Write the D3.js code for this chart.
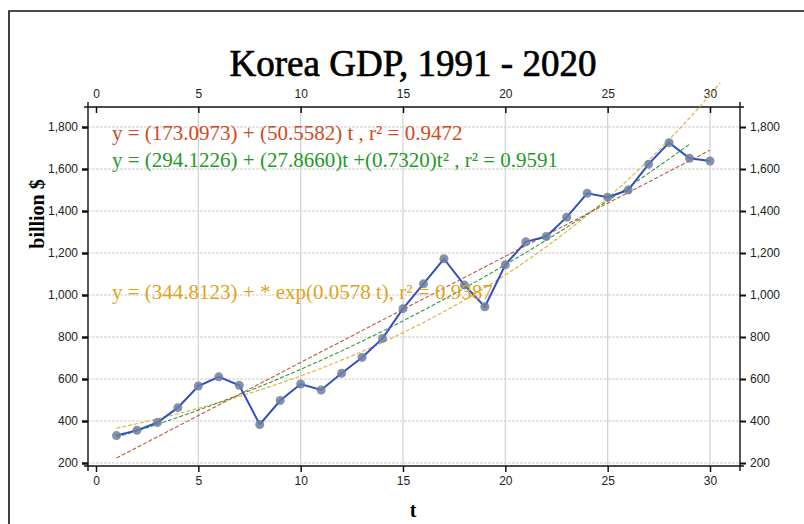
<!DOCTYPE html>
<html>
<head>
<meta charset="utf-8">
<script src="https://cdn.jsdelivr.net/npm/d3@7/dist/d3.min.js"></script>
<style>
  html, body { margin: 0; padding: 0; background: #fff; }
  svg { display: block; }
</style>
</head>
<body>
<svg id="chart" width="804" height="524"></svg>
<script>
// Korea GDP (billion US$), t = 1 (1991) … 30 (2020)
const tValues = d3.range(1, 31);
const gdpValues = [330.6, 355.5, 392.7, 463.6, 566.6, 610.2, 569.8, 383.3, 497.5, 576.2,
                   547.7, 627.2, 702.7, 793.2, 934.9, 1053.2, 1172.6, 1047.3, 943.9, 1144.1,
                   1253.2, 1278.4, 1370.8, 1484.3, 1466.0, 1499.7, 1623.1, 1725.4, 1651.4, 1638.3];

const xTicks = [0, 5, 10, 15, 20, 25, 30];
const yTicks = [200, 400, 600, 800, 1000, 1200, 1400, 1600, 1800];

// fitted trend coefficients
const linCoef = [173.0973, 50.5582];
const quadCoef = [294.1226, 27.8660, 0.7320];
const expCoef = [344.8123, 0.0578];
const fitLabels = [
  "y = (173.0973) + (50.5582) t , r\u00B2 = 0.9472",
  "y = (294.1226) + (27.8660)t +(0.7320)t\u00B2 , r\u00B2 = 0.9591",
  "y = (344.8123) + * exp(0.0578 t), r\u00B2 = 0.9387"
];

const svg = d3.select("#chart");

// outer frame
svg.append("path")
  .attr("d", "M9,530 L9,11 L810,11")
  .attr("fill", "none").attr("stroke", "#111").attr("stroke-width", 1.6);

const box = { left: 88, right: 740, top: 107, bottom: 466 };
const x = d3.scaleLinear().domain([0, 30]).range([96, 710]);
const y = d3.scaleLinear().domain([200, 1800]).range([463, 127]);

const grid = svg.append("g");
grid.selectAll("line.h").data(yTicks).join("line")
  .attr("x1", box.left).attr("x2", box.right)
  .attr("y1", d => y(d)).attr("y2", d => y(d))
  .attr("stroke", "#cfcfcf").attr("stroke-width", 1.2).attr("stroke-dasharray", "3,1");
grid.selectAll("line.v").data(xTicks.filter(d => d > 0)).join("line")
  .attr("y1", box.top).attr("y2", box.bottom)
  .attr("x1", d => x(d)).attr("x2", d => x(d))
  .attr("stroke", "#d4d4d4").attr("stroke-width", 1.3);

// axes
const axFont = "'Liberation Sans', Arial, sans-serif";
function styleAxis(g) {
  g.select(".domain").remove();
  g.selectAll("text").attr("font-family", axFont).attr("font-size", 12).attr("fill", "#222");
  g.selectAll("line").attr("stroke", "#111");
}
const fmt = d3.format(",");
svg.append("g").attr("transform", `translate(${box.left},0)`)
  .call(d3.axisLeft(y).tickValues(yTicks).tickFormat(fmt).tickSize(6).tickPadding(4))
  .call(styleAxis)
  .call(g => g.selectAll("line").attr("stroke-width", 2.5));
svg.append("g").attr("transform", `translate(${box.right},0)`)
  .call(d3.axisRight(y).tickValues(yTicks).tickFormat(fmt).tickSize(6).tickPadding(4))
  .call(styleAxis)
  .call(g => g.selectAll("line").attr("stroke-width", 2));
svg.append("g").attr("transform", `translate(0,${box.bottom})`)
  .call(d3.axisBottom(x).tickValues(xTicks).tickSize(6).tickPadding(4))
  .call(styleAxis)
  .call(g => g.selectAll("line").attr("stroke-width", 1.5));
svg.append("g").attr("transform", `translate(0,${box.top})`)
  .call(d3.axisTop(x).tickValues(xTicks).tickSize(-6).tickPadding(4))
  .call(styleAxis)
  .call(g => g.selectAll("line").attr("stroke-width", 1.5))
  .call(g => g.selectAll("text").attr("y", -9));

// axis frame lines
const frame = svg.append("g").attr("stroke", "#111").attr("stroke-width", 1.4);
frame.append("line").attr("x1", box.left).attr("x2", box.left).attr("y1", box.top - 5).attr("y2", box.bottom + 5);
frame.append("line").attr("x1", box.right).attr("x2", box.right).attr("y1", box.top - 5).attr("y2", box.bottom + 5);
frame.append("line").attr("x1", box.left - 4).attr("x2", box.right + 4).attr("y1", box.top).attr("y2", box.top);
frame.append("line").attr("x1", box.left - 4).attr("x2", box.right + 4).attr("y1", box.bottom).attr("y2", box.bottom);

// trend curves
const line = d3.line().x(d => x(d[0])).y(d => y(d[1]));
function curve(f, t0, t1) {
  const pts = [];
  for (let t = t0; t <= t1 + 1e-9; t += 0.25) pts.push([t, f(t)]);
  return pts;
}
const fLin = t => linCoef[0] + linCoef[1] * t;
const fQuad = t => quadCoef[0] + quadCoef[1] * t + quadCoef[2] * t * t;
const fExp = t => expCoef[0] * Math.exp(expCoef[1] * t);

svg.append("path").datum(curve(fExp, 1, 30.5)).attr("d", line)
  .attr("fill", "none").attr("stroke", "#e2b447").attr("stroke-width", 1.2).attr("stroke-dasharray", "4,2");
svg.append("path").datum(curve(fQuad, 1, 29)).attr("d", line)
  .attr("fill", "none").attr("stroke", "#2e9a3a").attr("stroke-width", 1.1).attr("stroke-dasharray", "4,2");
svg.append("path").datum(curve(fLin, 1, 30)).attr("d", line)
  .attr("fill", "none").attr("stroke", "#c0573a").attr("stroke-width", 1.1).attr("stroke-dasharray", "4,2");

// observed GDP
const obs = tValues.map((t, i) => [t, gdpValues[i]]);
svg.append("path").datum(obs).attr("d", line)
  .attr("fill", "none").attr("stroke", "#2f50c0").attr("stroke-width", 2);
svg.selectAll("circle.pt").data(obs).join("circle")
  .attr("cx", d => x(d[0])).attr("cy", d => y(d[1])).attr("r", 4.5)
  .attr("fill", "#6f7f9f").attr("fill-opacity", 0.85);

// equations
const serif = "'Liberation Serif', 'Times New Roman', serif";
const eq = svg.append("g").attr("font-family", serif).attr("font-size", 21);
eq.append("text").attr("x", 112).attr("y", 140).attr("fill", "#cf4a22").text(fitLabels[0]);
eq.append("text").attr("x", 112).attr("y", 167).attr("fill", "#1f9a26").text(fitLabels[1]);
eq.append("text").attr("x", 112).attr("y", 299).attr("fill", "#e0a418").text(fitLabels[2]);

// titles
svg.append("text").attr("x", 413).attr("y", 76).attr("text-anchor", "middle")
  .attr("font-family", serif).attr("font-size", 37).attr("fill", "#000")
  .attr("stroke", "#000").attr("stroke-width", 0.7)
  .text("Korea GDP, 1991 - 2020");
svg.append("text").attr("transform", "translate(44,214) rotate(-90)").attr("text-anchor", "middle")
  .attr("font-family", serif).attr("font-size", 20).attr("font-weight", "bold").attr("fill", "#000")
  .text("billion $");
svg.append("text").attr("x", 413).attr("y", 517).attr("text-anchor", "middle")
  .attr("font-family", serif).attr("font-size", 20).attr("font-weight", "bold").attr("fill", "#000")
  .text("t");
</script>
</body>
</html>
